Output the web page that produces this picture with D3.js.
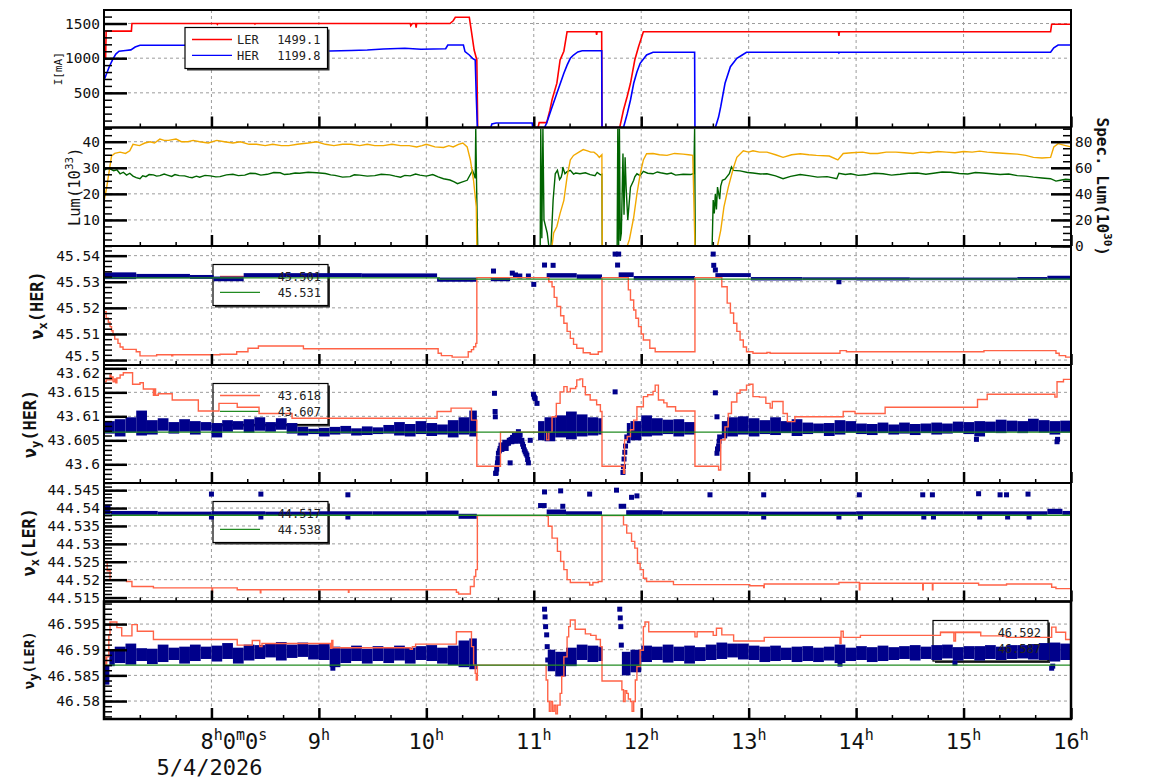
<!DOCTYPE html>
<html>
<head>
<meta charset="utf-8">
<script src="https://cdn.jsdelivr.net/npm/d3@7"></script>
<style>
  body { margin: 0; background: #fff; }
  svg { display: block; font-family: "DejaVu Sans Mono", monospace; }
</style>
</head>
<body>
<svg id="chart"></svg>
<script>
// time axis, hours of 5/4/2026
const TIME_DOMAIN = [7, 16];
const HOURS = [8, 9, 10, 11, 12, 13, 14, 15, 16];
const DATE_LABEL = "5/4/2026";

// ---- beam currents [h, mA]
const lerCurrent = [[7.0,1000],[7.015,1000],[7.02,1390],[7.255,1390],[7.26,1500],[8.05,1500],[8.055,1488],[8.06,1500],[8.4,1500],[8.405,1492],[8.41,1500],[9.85,1500],[9.855,1470],[9.87,1500],[9.9,1500],[9.905,1440],[9.91,1500],[10.22,1500],[10.25,1540],[10.27,1590],[10.40,1590],[10.42,1382],[10.445,1118],[10.47,974],[10.478,0],[11.04,0],[11.05,70],[11.12,70],[11.15,250],[11.17,400],[11.215,640],[11.245,974],[11.28,1100],[11.31,1382],[11.58,1382],[11.585,1335],[11.59,1382],[11.632,1382],[11.635,0],[11.80,0],[11.835,252],[11.87,450],[11.90,638],[11.94,974],[11.975,1166],[12.02,1382],[13.835,1382],[13.84,1320],[13.845,1382],[15.81,1382],[15.82,1490],[16.0,1490]];
const herCurrent = [[7.0,680],[7.02,760],[7.05,880],[7.08,980],[7.11,1060],[7.14,1100],[7.2,1110],[7.25,1120],[7.29,1160],[7.335,1186],[8.3,1186],[8.6,1170],[8.9,1130],[9.1,1104],[9.3,1110],[9.45,1118],[9.6,1133],[9.8,1143],[9.95,1128],[10.18,1136],[10.20,1190],[10.345,1190],[10.36,1094],[10.40,1046],[10.43,998],[10.455,974],[10.465,445],[10.475,0],[10.60,0],[10.61,50],[10.65,65],[10.985,65],[10.99,0],[11.10,0],[11.12,65],[11.16,250],[11.215,493],[11.25,650],[11.28,782],[11.31,900],[11.34,998],[11.37,1046],[11.41,1090],[11.45,1108],[11.632,1108],[11.635,0],[11.835,0],[11.87,200],[11.90,397],[11.93,638],[11.96,800],[11.99,926],[12.05,1046],[12.11,1085],[12.497,1085],[12.50,0],[12.69,0],[12.72,150],[12.74,300],[12.78,638],[12.83,877],[12.89,998],[12.94,1046],[12.98,1085],[13.835,1085],[13.84,1075],[13.845,1085],[15.81,1085],[15.84,1150],[15.88,1190],[16.0,1190]];
const currentLegend = [["LER", "1499.1"], ["HER", "1199.8"]];

// ---- luminosity [h, 10^33] and specific luminosity [h, 10^30]
const lumValues = [[7.0,29],[7.03,29.8],[7.056,29.6],[7.09,28.9],[7.12,29.2],[7.15,27.7],[7.18,28.3],[7.21,27.2],[7.24,27.9],[7.27,26.8],[7.30,26.2],[7.335,25.8],[7.36,26.9],[7.39,26.6],[7.42,27.4],[7.46,27.3],[7.49,26.8],[7.52,27.0],[7.56,27.6],[7.59,27.2],[7.63,26.7],[7.66,27.4],[7.70,27.0],[7.75,26.9],[7.79,26.4],[7.82,26.2],[7.86,26.8],[7.89,26.4],[7.94,27.1],[7.99,26.9],[8.04,26.5],[8.08,26.6],[8.14,27.3],[8.2,27.5],[8.25,27.0],[8.31,27.2],[8.36,27.9],[8.41,27.8],[8.46,27.2],[8.52,27.5],[8.58,28.2],[8.64,28.1],[8.68,27.4],[8.73,27.6],[8.78,28.0],[8.82,27.9],[8.90,28.3],[8.98,28.1],[9.06,27.8],[9.11,27.3],[9.15,27.1],[9.22,26.4],[9.29,26.6],[9.33,27.3],[9.38,27.2],[9.45,26.8],[9.52,27.0],[9.58,27.5],[9.66,27.3],[9.71,26.8],[9.76,26.4],[9.80,27.1],[9.85,26.9],[9.90,27.6],[9.94,27.2],[10.0,26.8],[10.06,27.4],[10.11,26.5],[10.16,25.8],[10.22,25.3],[10.26,24.6],[10.29,23.9],[10.33,24.5],[10.38,25.2],[10.43,29],[10.455,26],[10.46,45],[10.468,22.6],[10.478,0],[11.06,0],[11.065,45],[11.075,3],[11.085,45],[11.095,10],[11.125,5],[11.14,0],[11.16,0],[11.18,17.6],[11.20,27.7],[11.22,29],[11.24,25.5],[11.255,26.4],[11.265,28],[11.27,30.3],[11.29,27.7],[11.31,28.5],[11.34,29],[11.37,27.6],[11.39,28],[11.43,27.7],[11.48,28.1],[11.525,27.4],[11.57,27.0],[11.59,28.2],[11.62,27.3],[11.634,27.5],[11.637,0],[11.776,0],[11.782,45],[11.79,0],[11.797,45],[11.805,2],[11.815,5],[11.83,35.5],[11.84,12],[11.85,34],[11.86,22],[11.875,10],[11.90,22.6],[11.93,25.2],[11.94,26.5],[11.96,27.7],[11.99,27],[12.02,28.6],[12.06,27.9],[12.11,27.7],[12.15,28.4],[12.18,28.1],[12.24,27.6],[12.28,28.0],[12.32,27.2],[12.39,27.5],[12.46,27.4],[12.49,27.8],[12.497,45],[12.503,0],[12.66,0],[12.67,17.6],[12.68,12.5],[12.69,20],[12.70,14],[12.71,22.6],[12.73,18],[12.74,23],[12.755,25.2],[12.78,25.6],[12.82,27.7],[12.84,30.3],[12.86,29],[12.92,28.8],[12.99,28.2],[13.04,28],[13.11,27.6],[13.17,27.7],[13.25,26.9],[13.32,25.8],[13.39,26.7],[13.48,27.4],[13.57,26.9],[13.64,26.4],[13.73,26.6],[13.82,25.8],[13.84,27.9],[13.90,27.4],[13.95,27.7],[14.02,27.1],[14.09,27.3],[14.17,27.9],[14.25,27.7],[14.33,27.2],[14.41,27.5],[14.49,27.9],[14.57,28],[14.65,27.5],[14.72,27.9],[14.80,28.4],[14.88,28.3],[14.96,27.8],[15.04,27.6],[15.11,28.2],[15.18,28.0],[15.26,27.7],[15.34,27.4],[15.42,27.6],[15.50,27],[15.58,26.8],[15.65,26.4],[15.73,26.1],[15.81,25.8],[15.86,24.9],[15.90,25.2],[15.95,25.6],[16.0,25.4]];
const specLumValues = [[7.0,34],[7.025,45],[7.07,69],[7.1,71],[7.15,72],[7.2,71],[7.24,73],[7.27,78],[7.33,77],[7.38,79],[7.43,80],[7.47,79],[7.52,82],[7.56,81],[7.6,81],[7.67,82],[7.72,80],[7.78,80],[7.83,81],[7.89,80],[7.97,79],[8.05,81],[8.12,80],[8.2,79],[8.27,80],[8.35,78],[8.42,78],[8.5,77],[8.57,78],[8.65,77],[8.72,77],[8.8,78],[8.9,79],[8.98,80],[9.06,78],[9.14,77],[9.22,78],[9.3,78],[9.38,77],[9.45,78],[9.52,77],[9.6,77],[9.68,78],[9.76,77],[9.84,77],[9.91,76],[9.96,77],[10.0,78],[10.08,76],[10.16,75.6],[10.21,77],[10.25,76],[10.30,78],[10.34,79],[10.38,76],[10.41,66],[10.44,50],[10.465,30],[10.47,0],[11.17,0],[11.185,10],[11.215,15],[11.245,25],[11.28,35],[11.31,53],[11.34,66],[11.37,69.5],[11.42,72],[11.46,74],[11.50,73],[11.53,72],[11.56,72],[11.59,70],[11.61,68],[11.634,70],[11.637,0],[11.87,0],[11.89,5],[11.93,22],[11.96,40],[11.99,55],[12.02,66],[12.05,70.8],[12.11,71],[12.17,70],[12.24,69.5],[12.31,71],[12.39,70.5],[12.44,70],[12.48,69.5],[12.50,0],[12.71,0],[12.74,12],[12.77,30],[12.81,45],[12.86,60.5],[12.89,68],[12.95,73],[13.0,72],[13.04,73],[13.1,72],[13.17,72],[13.25,70],[13.32,68],[13.40,70],[13.48,70.8],[13.56,70],[13.63,69.5],[13.75,69],[13.83,66],[13.88,71],[13.96,71.5],[14.06,72],[14.13,71],[14.2,71],[14.28,72],[14.37,72],[14.45,71.5],[14.53,71],[14.6,72],[14.68,71.5],[14.76,72.5],[14.84,72],[14.92,71.5],[15.0,72.5],[15.08,72],[15.15,72.8],[15.22,72],[15.3,71.5],[15.4,71],[15.5,70.5],[15.58,69.5],[15.65,68],[15.73,67.5],[15.81,68],[15.84,76],[15.88,78.5],[15.95,77],[16.0,76]];

// ---- nu_x(HER)
const nuxHerSet = [[7.0,45.5315],[10.1,45.5315],[10.12,45.531],[16.0,45.531]];
const nuxHerRead = [[7.0,45.5185],[7.02,45.516],[7.04,45.5145],[7.056,45.5128],[7.07,45.5112],[7.084,45.5096],[7.1,45.508],[7.13,45.5064],[7.15,45.505],[7.177,45.5041],[7.30,45.5032],[7.335,45.5016],[7.49,45.502],[7.63,45.5016],[7.64,45.502],[8.08,45.5022],[8.235,45.5032],[8.34,45.5045],[8.437,45.5054],[8.856,45.5043],[10.11,45.5026],[10.14,45.5017],[10.24,45.5011],[10.39,45.5032],[10.42,45.504],[10.44,45.5051],[10.46,45.5064],[10.47,45.5316],[11.12,45.5316],[11.14,45.53],[11.17,45.5281],[11.19,45.524],[11.215,45.5205],[11.25,45.517],[11.28,45.5141],[11.31,45.511],[11.34,45.5083],[11.37,45.506],[11.40,45.5045],[11.46,45.5028],[11.525,45.5022],[11.60,45.5032],[11.635,45.5316],[11.85,45.5316],[11.88,45.5269],[11.90,45.523],[11.93,45.5192],[11.95,45.516],[11.975,45.5128],[12.0,45.51],[12.02,45.5077],[12.08,45.5045],[12.13,45.5032],[12.50,45.5316],[12.72,45.5316],[12.75,45.5281],[12.80,45.5218],[12.83,45.518],[12.86,45.5141],[12.89,45.511],[12.92,45.5077],[12.95,45.505],[12.98,45.5032],[13.04,45.5026],[13.17,45.5029],[13.20,45.5026],[13.85,45.5036],[13.91,45.5032],[15.19,45.5036],[15.86,45.5026],[15.89,45.5017],[15.95,45.5011],[16.0,45.5011]];
const nuxHerBand = [[7.0,7.3,45.5310,45.5336],[7.3,7.8,45.5313,45.5330],[7.8,8.02,45.5311,45.5326],[8.02,8.3,45.5302,45.5320],[8.3,8.7,45.5317,45.5333],[8.7,9.4,45.5318,45.5333],[9.4,10.1,45.5317,45.5332],[10.1,10.47,45.5300,45.5316],[10.60,10.78,45.5302,45.5315],[11.12,11.4,45.5316,45.5333],[11.4,11.635,45.5311,45.5328],[11.79,11.93,45.5318,45.5336],[11.93,12.5,45.5306,45.5322],[12.69,13.02,45.5318,45.5333],[13.02,13.5,45.5305,45.5318],[13.5,14.0,45.5306,45.5317],[14.0,14.5,45.5305,45.5317],[14.5,15.5,45.5306,45.5316],[15.5,15.78,45.5307,45.5318],[15.78,16.0,45.5308,45.5323]];
const nuxHerDots = [[10.625,45.5341],[10.80,45.5333],[10.83,45.5326],[10.87,45.5322],[10.95,45.5322],[11.0,45.529],[11.10,45.5364],[11.18,45.5363],[11.757,45.5406],[11.79,45.5406],[11.78,45.5364],[12.67,45.5406],[12.675,45.5363],[12.69,45.5345],[13.84,45.5300]];
const nuxHerLegend = ["45.501", "45.531"];

// ---- nu_y(HER)
const nuyHerSet = [[7.0,43.6067],[16.0,43.6067]];
const nuyHerRead = [[7.0,43.6172],[7.02,43.6176],[7.056,43.6186],[7.065,43.6176],[7.075,43.6182],[7.085,43.6172],[7.1,43.6178],[7.11,43.617],[7.12,43.618],[7.15,43.6186],[7.18,43.6191],[7.266,43.6167],[7.335,43.617],[7.366,43.6157],[7.46,43.6144],[7.47,43.6157],[7.48,43.6144],[7.505,43.6147],[7.635,43.6134],[7.878,43.6111],[8.07,43.6127],[8.24,43.6119],[8.443,43.6106],[8.75,43.6096],[10.10,43.611],[10.23,43.6117],[10.42,43.6092],[10.47,43.5996],[10.69,43.6067],[11.12,43.6051],[11.14,43.6067],[11.17,43.6099],[11.21,43.6127],[11.245,43.6151],[11.28,43.6162],[11.31,43.6151],[11.34,43.6158],[11.39,43.6162],[11.40,43.6176],[11.43,43.6178],[11.455,43.6162],[11.48,43.6145],[11.525,43.6134],[11.585,43.6124],[11.62,43.611],[11.635,43.5996],[11.835,43.5981],[11.845,43.6051],[11.87,43.6058],[11.90,43.6072],[11.93,43.6092],[11.96,43.612],[12.02,43.6141],[12.06,43.6145],[12.11,43.6152],[12.13,43.6165],[12.16,43.6134],[12.21,43.6128],[12.24,43.612],[12.32,43.6111],[12.50,43.5996],[12.72,43.5988],[12.74,43.6051],[12.78,43.6078],[12.81,43.6106],[12.84,43.613],[12.89,43.6148],[12.92,43.6155],[12.98,43.6165],[13.01,43.6167],[13.04,43.6141],[13.10,43.614],[13.16,43.6127],[13.20,43.6117],[13.22,43.6131],[13.32,43.6106],[13.36,43.6089],[13.43,43.6099],[13.88,43.611],[13.99,43.6106],[14.27,43.6119],[15.13,43.6135],[15.22,43.6146],[15.85,43.614],[15.87,43.6172],[15.93,43.6177],[16.0,43.6177]];
const nuyHerBand = [[7.0,7.1,43.6064,43.6090],[7.1,7.2,43.6058,43.6094],[7.2,7.3,43.6066,43.6098],[7.3,7.4,43.6060,43.6112],[7.4,7.5,43.6062,43.6092],[7.5,7.6,43.6070,43.6096],[7.6,7.7,43.6064,43.6088],[7.7,7.8,43.6068,43.6094],[7.8,7.9,43.6062,43.6090],[7.9,8.0,43.6070,43.6088],[8.0,8.1,43.6056,43.6086],[8.1,8.2,43.6068,43.6092],[8.2,8.3,43.6072,43.6090],[8.3,8.4,43.6066,43.6094],[8.4,8.5,43.6070,43.6098],[8.5,8.6,43.6068,43.6088],[8.6,8.7,43.6072,43.6096],[8.7,8.8,43.6064,43.6086],[8.8,8.9,43.6060,43.6078],[8.9,9.0,43.6063,43.6074],[9.0,9.1,43.6058,43.6076],[9.1,9.2,43.6062,43.6078],[9.2,9.3,43.6064,43.6080],[9.3,9.4,43.6060,43.6075],[9.4,9.5,43.6061,43.6079],[9.5,9.6,43.6063,43.6077],[9.6,9.7,43.6064,43.6082],[9.7,9.8,43.6060,43.6088],[9.8,9.9,43.6058,43.6084],[9.9,10.0,43.6063,43.6090],[10.0,10.1,43.6059,43.6086],[10.1,10.2,43.6062,43.6083],[10.2,10.3,43.6056,43.6092],[10.3,10.4,43.6062,43.6098],[10.4,10.47,43.6058,43.6112],[11.04,11.1,43.6050,43.6090],[11.1,11.2,43.6048,43.6098],[11.2,11.3,43.6056,43.6102],[11.3,11.4,43.6052,43.6110],[11.4,11.5,43.6058,43.6104],[11.5,11.6,43.6060,43.6098],[11.6,11.635,43.6062,43.6096],[11.866,11.9,43.6044,43.6086],[11.9,12.0,43.6050,43.6090],[12.0,12.1,43.6058,43.6102],[12.1,12.2,43.6060,43.6096],[12.2,12.3,43.6063,43.6093],[12.3,12.4,43.6058,43.6094],[12.4,12.5,43.6062,43.6088],[12.75,12.8,43.6054,43.6090],[12.8,12.9,43.6058,43.6098],[12.9,13.0,43.6062,43.6100],[13.0,13.1,43.6058,43.6096],[13.1,13.2,43.6063,43.6092],[13.2,13.3,43.6061,43.6098],[13.3,13.4,43.6065,43.6090],[13.4,13.5,43.6059,43.6094],[13.5,13.6,43.6063,43.6087],[13.6,13.7,43.6065,43.6085],[13.7,13.8,43.6059,43.6086],[13.8,13.9,43.6062,43.6092],[13.9,14.0,43.6066,43.6090],[14.0,14.1,43.6063,43.6085],[14.1,14.2,43.6061,43.6084],[14.2,14.3,43.6065,43.6087],[14.3,14.4,43.6062,43.6083],[14.4,14.5,43.6064,43.6087],[14.5,14.6,43.6061,43.6084],[14.6,14.7,43.6065,43.6085],[14.7,14.8,43.6062,43.6087],[14.8,14.9,43.6064,43.6085],[14.9,15.0,43.6066,43.6089],[15.0,15.1,43.6063,43.6088],[15.1,15.2,43.6058,43.6090],[15.2,15.3,43.6066,43.6089],[15.3,15.4,43.6065,43.6093],[15.4,15.5,43.6068,43.6091],[15.5,15.6,43.6065,43.6090],[15.6,15.7,43.6068,43.6095],[15.7,15.8,43.6066,43.6092],[15.8,15.9,43.6062,43.6090],[15.9,16.0,43.6066,43.6091]];
const nuyHerDots = [[10.65,43.5982],[10.655,43.599],[10.662,43.6003],[10.667,43.6012],[10.671,43.6023],[10.68,43.6028],[10.687,43.6033],[10.695,43.604],[10.703,43.6031],[10.71,43.6036],[10.718,43.604],[10.73,43.6046],[10.743,43.6033],[10.75,43.6043],[10.765,43.6044],[10.772,43.605],[10.78,43.6003],[10.788,43.6052],[10.796,43.6047],[10.803,43.6056],[10.81,43.6054],[10.82,43.606],[10.827,43.6057],[10.835,43.6048],[10.843,43.605],[10.85,43.6062],[10.857,43.6068],[10.865,43.6055],[10.873,43.6061],[10.88,43.6048],[10.889,43.605],[10.896,43.6042],[10.904,43.6037],[10.912,43.603],[10.92,43.6026],[10.928,43.6022],[10.936,43.6019],[10.943,43.601],[10.95,43.6003],[10.967,43.605],[10.634,43.6148],[10.64,43.611],[10.642,43.6099],[10.645,43.5981],[10.997,43.6146],[11.005,43.614],[11.013,43.6137],[11.03,43.6127],[11.757,43.6151],[11.83,43.5983],[11.835,43.5995],[11.84,43.6011],[11.847,43.6025],[11.854,43.6038],[11.866,43.6057],[12.69,43.6149],[12.705,43.6023],[12.71,43.6032],[12.72,43.6038],[12.725,43.6048],[12.73,43.6057],[12.705,43.6099],[15.12,43.6052],[15.87,43.6047],[15.875,43.6052]];
const nuyHerLegend = ["43.618", "43.607"];

// ---- nu_x(LER)
const nuxLerSet = [[7.0,44.538],[16.0,44.538]];
const nuxLerRead = [[7.0,44.5251],[7.03,44.5225],[7.056,44.52],[7.21,44.5195],[7.26,44.5181],[7.46,44.5177],[8.0,44.5177],[8.005,44.5165],[8.01,44.5177],[8.24,44.5172],[8.45,44.5172],[8.455,44.5163],[8.46,44.5172],[9.27,44.5172],[9.275,44.5165],[9.28,44.5172],[10.28,44.5165],[10.30,44.516],[10.41,44.5181],[10.445,44.5209],[10.46,44.5228],[10.475,44.5379],[11.12,44.5378],[11.135,44.5349],[11.17,44.5316],[11.22,44.5279],[11.25,44.5251],[11.28,44.5228],[11.31,44.52],[11.34,44.5192],[11.52,44.5185],[11.55,44.5192],[11.60,44.5195],[11.635,44.5379],[11.82,44.5379],[11.835,44.5353],[11.865,44.533],[11.91,44.5307],[11.94,44.5288],[11.965,44.5246],[11.99,44.5228],[12.02,44.5204],[12.05,44.5195],[12.30,44.5186],[13.01,44.5183],[13.14,44.5178],[13.145,44.5188],[13.84,44.5192],[14.03,44.5172],[14.035,44.519],[14.62,44.5172],[14.625,44.519],[14.71,44.5172],[14.715,44.519],[15.13,44.519],[15.14,44.5185],[15.40,44.5188],[15.82,44.5179],[15.86,44.5175],[16.0,44.5175]];
const nuxLerBand = [[7.0,7.06,44.5382,44.5409],[7.06,7.5,44.5381,44.5392],[7.5,8.0,44.538,44.539],[8.0,8.5,44.5381,44.5391],[8.5,9.0,44.538,44.539],[9.0,9.5,44.5381,44.5391],[9.5,10.0,44.538,44.5391],[10.0,10.3,44.5381,44.5393],[10.3,10.47,44.537,44.5384],[11.04,11.12,44.54,44.5414],[11.12,11.3,44.5382,44.5396],[11.3,11.635,44.5381,44.5391],[11.79,11.86,44.5398,44.5412],[11.86,12.2,44.538,44.5394],[12.2,13.0,44.5381,44.5391],[13.0,14.0,44.538,44.539],[14.0,15.0,44.5381,44.5391],[15.0,15.78,44.5381,44.5391],[15.78,15.92,44.5383,44.5398],[15.92,16.0,44.5381,44.5392]];
const nuxLerDots = [[8.0,44.5439],[8.46,44.5439],[9.27,44.5437],[11.10,44.5445],[11.25,44.5448],[11.52,44.5439],[11.27,44.5405],[11.77,44.545],[11.91,44.543],[11.96,44.5434],[12.64,44.5437],[13.14,44.5437],[14.03,44.5437],[14.62,44.5437],[14.71,44.5437],[15.14,44.544],[15.34,44.5437],[15.40,44.5437],[15.60,44.5439],[8.0,44.5375],[8.46,44.5375],[9.27,44.5375],[13.14,44.5375],[13.84,44.5375],[14.04,44.5375],[14.63,44.5375],[14.72,44.5375],[15.15,44.5375],[15.41,44.5375],[15.61,44.5375]];
const nuxLerLegend = ["44.517", "44.538"];

// ---- nu_y(LER)
const nuyLerSet = [[7.0,46.587],[16.0,46.587]];
const nuyLerRead = [[7.0,46.5886],[7.01,46.587],[7.025,46.5886],[7.045,46.5929],[7.056,46.5954],[7.12,46.5943],[7.165,46.5927],[7.26,46.5949],[7.31,46.5936],[7.46,46.592],[8.24,46.5909],[8.38,46.5918],[8.45,46.5906],[8.47,46.5912],[9.11,46.5903],[9.12,46.5918],[9.13,46.5904],[9.85,46.5901],[9.87,46.5906],[9.90,46.5911],[10.28,46.5935],[10.42,46.5906],[10.44,46.587],[10.455,46.5854],[10.465,46.5841],[10.475,46.587],[11.10,46.587],[11.115,46.5841],[11.13,46.5799],[11.145,46.578],[11.16,46.5799],[11.175,46.578],[11.19,46.5792],[11.205,46.5775],[11.22,46.5792],[11.245,46.5815],[11.26,46.5848],[11.28,46.5886],[11.31,46.5925],[11.325,46.5945],[11.34,46.5958],[11.385,46.594],[11.48,46.5931],[11.53,46.5928],[11.58,46.592],[11.62,46.5906],[11.635,46.5839],[11.82,46.5822],[11.835,46.5799],[11.85,46.582],[11.865,46.5815],[11.88,46.5804],[11.90,46.5799],[11.915,46.578],[11.93,46.5799],[11.945,46.5841],[11.96,46.5867],[11.99,46.5899],[12.02,46.5945],[12.035,46.5954],[12.07,46.5935],[12.50,46.5925],[12.52,46.5935],[12.67,46.5928],[12.70,46.5942],[12.75,46.5929],[12.86,46.5917],[13.145,46.5924],[13.85,46.5912],[13.86,46.5936],[13.88,46.5924],[14.04,46.5928],[14.785,46.5934],[14.91,46.5917],[14.925,46.5934],[15.16,46.5927],[15.40,46.5924],[15.82,46.5944],[15.86,46.5934],[15.95,46.592],[16.0,46.592]];
const nuyLerBand = [[7.0,7.05,46.5832,46.587],[7.05,7.1,46.5868,46.59],[7.1,7.2,46.5874,46.5906],[7.2,7.3,46.5871,46.5912],[7.3,7.4,46.5878,46.5903],[7.4,7.5,46.5872,46.5902],[7.5,7.6,46.5876,46.591],[7.6,7.7,46.5880,46.5904],[7.7,7.8,46.5873,46.5906],[7.8,7.9,46.5878,46.591],[7.9,8.0,46.5882,46.5906],[8.0,8.1,46.5877,46.5908],[8.1,8.2,46.5882,46.5913],[8.2,8.3,46.5873,46.5904],[8.3,8.4,46.5879,46.591],[8.4,8.5,46.5882,46.5909],[8.5,8.6,46.5885,46.5912],[8.6,8.7,46.5879,46.5915],[8.7,8.8,46.5884,46.591],[8.8,8.9,46.5886,46.5914],[8.9,9.0,46.5881,46.591],[9.0,9.1,46.5880,46.5912],[9.1,9.2,46.5866,46.5906],[9.2,9.3,46.5874,46.5903],[9.3,9.4,46.5878,46.5908],[9.4,9.5,46.5873,46.5902],[9.5,9.6,46.5878,46.5907],[9.6,9.7,46.5874,46.5904],[9.7,9.8,46.5879,46.5908],[9.8,9.9,46.5873,46.5904],[9.9,10.0,46.5880,46.5907],[10.0,10.1,46.5878,46.5909],[10.1,10.2,46.5873,46.5904],[10.2,10.3,46.5870,46.5908],[10.3,10.4,46.5866,46.5918],[10.4,10.47,46.5862,46.5922],[11.13,11.2,46.5858,46.59],[11.2,11.3,46.5848,46.5896],[11.3,11.4,46.5868,46.5904],[11.4,11.5,46.5880,46.591],[11.5,11.6,46.5876,46.5908],[11.6,11.64,46.5878,46.5906],[11.82,11.9,46.5850,46.5896],[11.9,12.0,46.5856,46.59],[12.0,12.1,46.5876,46.5908],[12.1,12.2,46.5880,46.5906],[12.2,12.3,46.5875,46.591],[12.3,12.4,46.5878,46.5906],[12.4,12.5,46.5873,46.5908],[12.5,12.6,46.5878,46.5905],[12.6,12.7,46.5880,46.591],[12.7,12.8,46.5882,46.5914],[12.8,12.9,46.5885,46.5912],[12.9,13.0,46.5881,46.5912],[13.0,13.1,46.5880,46.5908],[13.1,13.2,46.5876,46.5906],[13.2,13.3,46.5878,46.5908],[13.3,13.4,46.5880,46.5904],[13.4,13.5,46.5876,46.5906],[13.5,13.6,46.5878,46.5907],[13.6,13.7,46.5876,46.5904],[13.7,13.8,46.5879,46.5906],[13.8,13.9,46.5874,46.5910],[13.9,14.0,46.5878,46.5904],[14.0,14.1,46.5880,46.5907],[14.1,14.2,46.5876,46.5905],[14.2,14.3,46.5878,46.5908],[14.3,14.4,46.5880,46.5905],[14.4,14.5,46.5882,46.5907],[14.5,14.6,46.5879,46.5909],[14.6,14.7,46.5882,46.5906],[14.7,14.8,46.5880,46.5909],[14.8,14.9,46.5883,46.5910],[14.9,15.0,46.5879,46.5905],[15.0,15.1,46.5882,46.5907],[15.1,15.2,46.5879,46.5907],[15.2,15.3,46.5882,46.5909],[15.3,15.4,46.5880,46.5906],[15.4,15.5,46.5882,46.5909],[15.5,15.6,46.5883,46.5909],[15.6,15.7,46.5881,46.5911],[15.7,15.8,46.5880,46.5913],[15.8,15.9,46.5877,46.5914],[15.9,16.0,46.5880,46.5912]];
const nuyLerDots = [[11.10,46.5979],[11.105,46.5964],[11.11,46.5945],[11.12,46.5929],[11.125,46.5906],[11.13,46.588],[11.80,46.5979],[11.805,46.5962],[11.81,46.5945],[11.815,46.5909],[9.13,46.5864],[13.85,46.5872],[14.92,46.5874],[15.82,46.5864],[15.83,46.5868]];
const nuyLerLegend = ["46.592", "46.587"];

// tick labels of the axes
const currentTicks = [500, 1000, 1500];
const lumTicks = [10, 20, 30, 40];
const specLumTicks = [0, 20, 40, 60, 80];
const nuxHerTicks = [45.50, 45.51, 45.52, 45.53, 45.54];
const nuyHerTicks = [43.600, 43.605, 43.610, 43.615, 43.620];
const nuxLerTicks = [44.515, 44.520, 44.525, 44.530, 44.535, 44.540, 44.545];
const nuyLerTicks = [46.580, 46.585, 46.590, 46.595];

const COLORS = {
  ler: "#ff0000", her: "#0000ff", lum: "#006400", spec: "#f2a900",
  read: "#ff6347", set: "#228b22", tune: "#00008b"
};

const tuneFmt = d => String(+d.toFixed(3));
const nu = (sub, ring) => [{ text: "ν" }, { text: sub, size: 12, shift: 4 }, { text: `(${ring})` }];

function tuneLayers(band, dots, read, set) {
  return [
    { type: "band", data: band, color: COLORS.tune },
    { type: "dots", data: dots, color: COLORS.tune },
    { type: "step", data: read, color: COLORS.read },
    { type: "step", data: set, color: COLORS.set }
  ];
}

const tuneItems = values => values.map((v, i) => ({ value: v, color: i ? COLORS.set : COLORS.read }));

const panels = [
  {
    top: 10, bottom: 127.5, domain: [0, 1695], ticks: currentTicks, minor: 100, fmt: d => d,
    label: { parts: [{ text: "I[mA]" }], size: 11, x: 62, weight: "normal" },
    layers: [
      { type: "line", data: lerCurrent, color: COLORS.ler, width: 1.6 },
      { type: "line", data: herCurrent, color: COLORS.her, width: 1.6 }
    ],
    legend: { x: 185, y: 27.5, w: 142.5, h: 41, fill: "#fff", front: true,
      items: currentLegend.map((d, i) => ({ name: d[0], value: d[1], color: i ? COLORS.her : COLORS.ler })) }
  },
  {
    top: 127.5, bottom: 246, domain: [0, 45.45], ticks: lumTicks, minor: 2.5, fmt: d => d,
    label: { parts: [{ text: "Lum(10" }, { text: "33", size: 11, shift: -7 }, { text: ")" }], size: 15.5, x: 80, weight: "normal" },
    right: {
      domain: [0, 90.9], ticks: specLumTicks, minor: 5,
      label: { parts: [{ text: "Spec. Lum(10" }, { text: "30", size: 11, shift: -7 }, { text: ")" }], size: 16, x: 1097, weight: "bold" }
    },
    layers: [
      { type: "line", data: lumValues, color: COLORS.lum },
      { type: "line", data: specLumValues, color: COLORS.spec, axis: "right" }
    ]
  },
  {
    top: 246, bottom: 365, domain: [45.4981, 45.5437], ticks: nuxHerTicks, minor: 0.002, fmt: tuneFmt,
    label: { parts: nu("x", "HER"), size: 17, x: 43, weight: "bold" },
    layers: tuneLayers(nuxHerBand, nuxHerDots, nuxHerRead, nuxHerSet),
    legend: { x: 213, y: 264.5, w: 115, h: 41, items: tuneItems(nuxHerLegend) },
    edgeNudge: { bottom: -4.5 }
  },
  {
    top: 365, bottom: 483, domain: [43.5961, 43.6207], ticks: nuyHerTicks, minor: 0.001, fmt: tuneFmt,
    label: { parts: nu("y", "HER"), size: 17, x: 36, weight: "bold" },
    layers: tuneLayers(nuyHerBand, nuyHerDots, nuyHerRead, nuyHerSet),
    legend: { x: 213, y: 383.5, w: 115, h: 41, items: tuneItems(nuyHerLegend) },
    edgeNudge: { top: 4.5 }
  },
  {
    top: 483, bottom: 601.5, domain: [44.5139, 44.547], ticks: nuxLerTicks, minor: 0.001, fmt: tuneFmt,
    label: { parts: nu("x", "LER"), size: 17, x: 35, weight: "bold" },
    layers: tuneLayers(nuxLerBand, nuxLerDots, nuxLerRead, nuxLerSet),
    legend: { x: 213, y: 501.5, w: 115, h: 41, items: tuneItems(nuxLerLegend) }
  },
  {
    top: 601.5, bottom: 719, domain: [46.5765, 46.5994], ticks: nuyLerTicks, minor: 0.001, fmt: tuneFmt,
    label: { parts: nu("y", "LER"), size: 14, x: 34, weight: "bold" },
    layers: tuneLayers(nuyLerBand, nuyLerDots, nuyLerRead, nuyLerSet),
    legend: { x: 933, y: 620.5, w: 115, h: 40.5, items: tuneItems(nuyLerLegend) }
  }
];

function richText(sel, parts, size) {
  let shift = 0;
  parts.forEach(part => {
    const s = part.shift || 0;
    sel.append("tspan")
      .attr("font-size", part.size || size)
      .attr("dy", s - shift)
      .text(part.text);
    shift = s;
  });
}

function minorValues(domain, step) {
  const k0 = Math.ceil(domain[0] / step - 1e-6), k1 = Math.floor(domain[1] / step + 1e-6);
  return d3.range(k0, k1 + 1).map(k => +(k * step).toFixed(6));
}

class StripChart {
  constructor(option) {
    let o = {
      el: "#chart",
      width: 1154,
      height: 782,
      left: 104,
      right: 1071,
      panels: []
    };
    Object.assign(o, option);
    Object.assign(this, o);
    this.init();
  }

  init() {
    this.svg = d3.select(this.el)
      .attr("width", this.width)
      .attr("height", this.height);
    this.x = d3.scaleLinear().domain(TIME_DOMAIN).range([this.left, this.right]);
    this.panels.forEach((p, i) => this.addPanel(p, i));
    this.addTimeLabels();
  }

  addPanel(p, i) {
    const x = this.x;
    const y = d3.scaleLinear().domain(p.domain).range([p.bottom, p.top]);
    const yr = p.right ? d3.scaleLinear().domain(p.right.domain).range([p.bottom, p.top]) : null;
    const g = this.svg.append("g").attr("class", `panel panel-${i}`);

    g.append("clipPath").attr("id", `clip-${i}`)
      .append("rect")
      .attr("x", this.left)
      .attr("y", p.top)
      .attr("width", this.right - this.left)
      .attr("height", p.bottom - p.top);

    // dashed grid
    const grid = g.append("g")
      .attr("stroke", "#9c9c9c")
      .attr("stroke-width", 1)
      .attr("stroke-dasharray", "3,3");
    grid.selectAll(".gy").data(p.ticks).join("line")
      .attr("x1", this.left).attr("x2", this.right)
      .attr("y1", d => y(d)).attr("y2", d => y(d));
    grid.selectAll(".gx").data(HOURS.slice(0, -1)).join("line")
      .attr("x1", d => x(d)).attr("x2", d => x(d))
      .attr("y1", p.top).attr("y2", p.bottom);

    // tune legends sit under the data, their numbers stay readable on top
    if (p.legend && !p.legend.front) this.addLegendBox(g, p.legend);

    const plot = g.append("g").attr("clip-path", `url(#clip-${i})`);
    p.layers.forEach(layer => {
      const ys = layer.axis === "right" ? yr : y;
      if (layer.type === "band") {
        plot.append("g").selectAll("rect").data(layer.data).join("rect")
          .attr("x", d => x(d[0]))
          .attr("width", d => x(d[1]) - x(d[0]))
          .attr("y", d => ys(d[3]))
          .attr("height", d => Math.max(2, ys(d[2]) - ys(d[3])))
          .attr("fill", layer.color);
      } else if (layer.type === "dots") {
        plot.append("g").selectAll("rect").data(layer.data).join("rect")
          .attr("x", d => x(d[0]) - 2.5)
          .attr("y", d => ys(d[1]) - 2.5)
          .attr("width", 5)
          .attr("height", 5)
          .attr("fill", layer.color);
      } else {
        const line = d3.line()
          .x(d => x(d[0]))
          .y(d => ys(d[1]))
          .curve(layer.type === "step" ? d3.curveStepAfter : d3.curveLinear);
        plot.append("path")
          .datum(layer.data)
          .attr("d", line)
          .attr("fill", "none")
          .attr("stroke", layer.color)
          .attr("stroke-width", layer.width || 1.4);
      }
    });

    if (p.legend) {
      if (p.legend.front) this.addLegendBox(g, p.legend);
      this.addLegendText(g, p.legend);
    }

    // left axis, major + minor ticks pointing inwards
    const leftAxis = g.append("g")
      .attr("transform", `translate(${this.left},0)`)
      .call(d3.axisLeft(y).tickValues(p.ticks).tickSize(-23).tickPadding(4).tickFormat(p.fmt));
    this.styleAxis(leftAxis, 2.5);
    // two labels meet at the HER panel border, pull them apart a little
    const nudge = p.edgeNudge || {};
    leftAxis.selectAll(".tick text")
      .attr("y", d => (y(d) - p.top < 5 ? (nudge.top || 0) : (p.bottom - y(d) < 6 ? (nudge.bottom || 0) : 0)));
    this.styleAxis(g.append("g")
      .attr("transform", `translate(${this.left},0)`)
      .call(d3.axisLeft(y).tickValues(minorValues(p.domain, p.minor)).tickSize(-8).tickFormat("")), 1.5);

    if (p.right) {
      this.styleAxis(g.append("g")
        .attr("transform", `translate(${this.right},0)`)
        .call(d3.axisRight(yr).tickValues(p.right.ticks).tickSize(-20).tickPadding(4)), 2.5);
      this.styleAxis(g.append("g")
        .attr("transform", `translate(${this.right},0)`)
        .call(d3.axisRight(yr).tickValues(minorValues(p.right.domain, p.right.minor)).tickSize(-8).tickFormat("")), 1.5);
      this.addLabel(p.right.label, (p.top + p.bottom) / 2, 90);
    }

    // time ticks on the bottom edge of every panel
    const minorHours = d3.range(1, 27).map(k => TIME_DOMAIN[0] + k / 3).filter(h => Math.abs(h - Math.round(h)) > 0.01);
    this.styleAxis(g.append("g")
      .attr("transform", `translate(0,${p.bottom})`)
      .call(d3.axisBottom(x).tickValues(HOURS).tickSize(-11).tickFormat("")), 2.5);
    this.styleAxis(g.append("g")
      .attr("transform", `translate(0,${p.bottom})`)
      .call(d3.axisBottom(x).tickValues(minorHours).tickSize(-4).tickFormat("")), 1.5);

    g.append("rect")
      .attr("x", this.left)
      .attr("y", p.top)
      .attr("width", this.right - this.left)
      .attr("height", p.bottom - p.top)
      .attr("fill", "none")
      .attr("stroke", "#000")
      .attr("stroke-width", i === this.panels.length - 1 ? 2.5 : 2);

    this.addLabel(p.label, (p.top + p.bottom) / 2, -90);
  }

  styleAxis(axis, width) {
    axis.select(".domain").remove();
    axis.attr("font-family", "DejaVu Sans Mono")
      .attr("font-size", 14.5);
    axis.selectAll("line").attr("stroke", "#000").attr("stroke-width", width);
    axis.selectAll("text").attr("fill", "#111");
  }

  addLabel(label, cy, angle) {
    const t = this.svg.append("text")
      .attr("transform", `translate(${label.x},${cy}) rotate(${angle})`)
      .attr("text-anchor", "middle")
      .attr("font-weight", label.weight)
      .attr("fill", "#111");
    richText(t, label.parts, label.size);
  }

  addLegendBox(g, lg) {
    const box = g.append("g");
    box.append("path")
      .attr("d", `M${lg.x + lg.w + 1},${lg.y + 2}V${lg.y + lg.h + 1}H${lg.x + 2}`)
      .attr("fill", "none")
      .attr("stroke", "#333")
      .attr("stroke-width", 2);
    box.append("rect")
      .attr("x", lg.x).attr("y", lg.y)
      .attr("width", lg.w).attr("height", lg.h)
      .attr("fill", lg.fill || "none")
      .attr("stroke", "#000")
      .attr("stroke-width", 1.2);
    lg.items.forEach((d, k) => {
      const ly = lg.y + 12 + k * 15.8;
      box.append("line")
        .attr("x1", lg.x + 7).attr("x2", lg.x + 47)
        .attr("y1", ly).attr("y2", ly)
        .attr("stroke", d.color)
        .attr("stroke-width", 1.3);
    });
  }

  addLegendText(g, lg) {
    lg.items.forEach((d, k) => {
      const ly = lg.y + 12 + k * 15.8;
      if (d.name) {
        g.append("text")
          .attr("x", lg.x + 52).attr("y", ly + 4.5)
          .attr("font-size", 12)
          .attr("fill", "#222")
          .text(d.name);
      }
      g.append("text")
        .attr("x", lg.x + lg.w - 7).attr("y", ly + 4.5)
        .attr("text-anchor", "end")
        .attr("font-size", 12)
        .attr("fill", "#222")
        .text(d.value);
    });
  }

  addTimeLabels() {
    const base = this.panels[this.panels.length - 1].bottom;
    HOURS.forEach((h, k) => {
      const parts = [{ text: String(h) }, { text: "h", size: 15, shift: -9 }];
      if (k === 0) {
        parts.push({ text: "0" }, { text: "m", size: 15, shift: -9 }, { text: "0" }, { text: "s", size: 15, shift: -9 });
      }
      const t = this.svg.append("text")
        .attr("x", k === 0 ? this.x(h) - 11 : this.x(h))
        .attr("y", base + 30)
        .attr("text-anchor", k === 0 ? "start" : "middle")
        .attr("fill", "#111");
      richText(t, parts, 22);
    });
    this.svg.append("text")
      .attr("x", this.x(HOURS[0]) - 2)
      .attr("y", base + 56)
      .attr("text-anchor", "middle")
      .attr("font-size", 22)
      .attr("fill", "#111")
      .text(DATE_LABEL);
  }
}

new StripChart({ panels });
</script>
</body>
</html>
